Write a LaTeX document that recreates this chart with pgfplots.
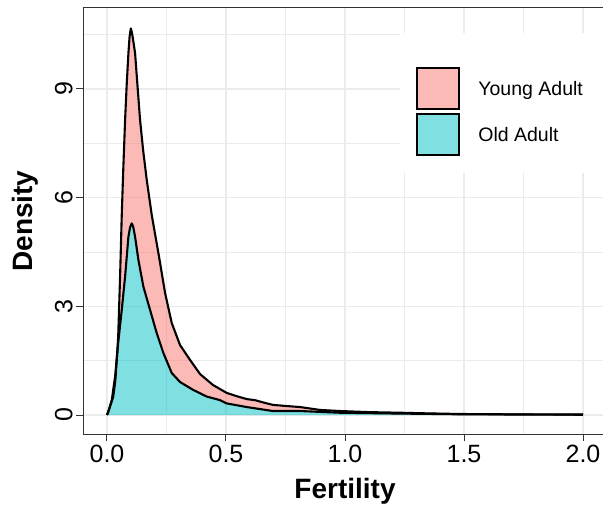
\documentclass[border=0pt]{standalone}
\usepackage{pgfplots}
\pgfplotsset{compat=1.18}
\usepgfplotslibrary{fillbetween}
\usepackage{fontspec}
\setmainfont{Liberation Sans}
\definecolor{gridc}{HTML}{EBEBEB}
\definecolor{darkgrey}{HTML}{333333}
\definecolor{ypink}{HTML}{F8766D}
\definecolor{ocyan}{HTML}{00BFC4}

\pgfplotstableread{
x y
0 0
0.008 0.14
0.026 0.50
0.035 0.95
0.041 1.52
0.047 2.16
0.055 3.82
0.062 5.52
0.069 6.90
0.076 8.14
0.083 9.15
0.090 9.99
0.095 10.45
0.100 10.67
0.105 10.55
0.111 10.30
0.118 9.99
0.128 9.10
0.139 8.14
0.152 7.30
0.167 6.49
0.188 5.52
0.216 4.47
0.244 3.37
0.272 2.54
0.307 1.93
0.349 1.52
0.391 1.13
0.445 0.83
0.503 0.61
0.545 0.52
0.587 0.44
0.622 0.41
0.660 0.34
0.697 0.28
0.750 0.25
0.811 0.22
0.895 0.14
0.979 0.11
1.100 0.08
1.231 0.063
1.350 0.045
1.483 0.028
1.700 0.018
2.000 0.014
}\young

\pgfplotstableread{
x y
0 0
0.0055 0.09
0.020 0.41
0.034 1.06
0.047 1.99
0.062 2.90
0.076 3.82
0.090 4.92
0.097 5.18
0.104 5.29
0.110 5.20
0.118 4.92
0.132 4.28
0.153 3.54
0.181 2.90
0.209 2.26
0.237 1.71
0.272 1.16
0.307 0.91
0.363 0.69
0.419 0.51
0.475 0.41
0.503 0.32
0.587 0.22
0.697 0.11
0.811 0.11
0.979 0.063
1.231 0.040
1.483 0.020
2.000 0.008
}\old

\pgfplotsset{keybox/.style={legend image code/.code={\draw[##1,draw=black,line width=1.8pt] (0.9pt,-20.6pt) rectangle (43.1pt,20.6pt); \path (62pt,0pt);}}}

\begin{document}
\begin{tikzpicture}
\begin{axis}[
  scale only axis, width=523.6pt, height=426.4pt,
  xmin=-0.1, xmax=2.1, ymin=-0.535, ymax=11.235,
  axis line style={draw=darkgrey, line width=1pt},
  xtick={0,0.5,1,1.5,2}, xticklabels={0.0,0.5,1.0,1.5,2.0},
  ytick={0,3,6,9}, yticklabels={0,3,6,9},
  minor xtick={0.25,0.75,1.25,1.75}, minor ytick={1.5,4.5,7.5,10.5},
  grid=both,
  major grid style={color=gridc, line width=1.4pt},
  minor grid style={color=gridc, line width=0.7pt},
  tick align=outside, major tick length=7pt, minor tick length=0pt,
  tick style={draw=darkgrey, line width=1pt},
  xtick pos=lower, ytick pos=left,
  /pgf/number format/assume math mode=true,
  ticklabel style={font=\fontsize{25}{30}\selectfont, text=black},
  yticklabel style={rotate=90, anchor=south},
  xlabel={\textbf{Fertility}}, ylabel={\textbf{Density}},
  label style={font=\fontsize{28}{33}\selectfont},
  xlabel style={at={(axis description cs:0.5,-0.150)}, anchor=base},
  ylabel style={at={(axis description cs:-0.111,0.5)}, anchor=center},
  legend cell align=left,
  legend style={at={(rel axis cs:0.6356,0.8616)}, anchor=north west, draw=none, fill=none, inner sep=0pt,
    font=\fontsize{19.5}{23}\selectfont, row sep=3pt, nodes={inner sep=0pt}},
]
\fill[white] (rel axis cs:0.605,0.613) rectangle (rel axis cs:1.02,0.941);
\addplot[draw=none, name path=top, forget plot] table[x=x,y=y] {\young};
\addplot[draw=none, name path=old, forget plot] table[x=x,y=y] {\old};
\addplot[draw=none, name path=base, forget plot] coordinates {(0,0) (2,0)};
\addplot[fill=ypink, fill opacity=0.5, draw=none, forget plot] fill between[of=top and old];
\addplot[fill=ocyan, fill opacity=0.5, draw=none, forget plot] fill between[of=old and base];
\addplot[black, line width=2.1pt, line join=round, forget plot] table[x=x,y=y] {\young};
\addplot[black, line width=2.1pt, line join=round, forget plot] table[x=x,y=y] {\old};
\addlegendimage{keybox, fill=ypink!50}
\addlegendentry{Young Adult}
\addlegendimage{keybox, fill=ocyan!50}
\addlegendentry{Old Adult}
\end{axis}
\pgfresetboundingbox
\useasboundingbox (-83.2pt,-74.6pt) rectangle (519.8pt,434.4pt);
\end{tikzpicture}
\end{document}
